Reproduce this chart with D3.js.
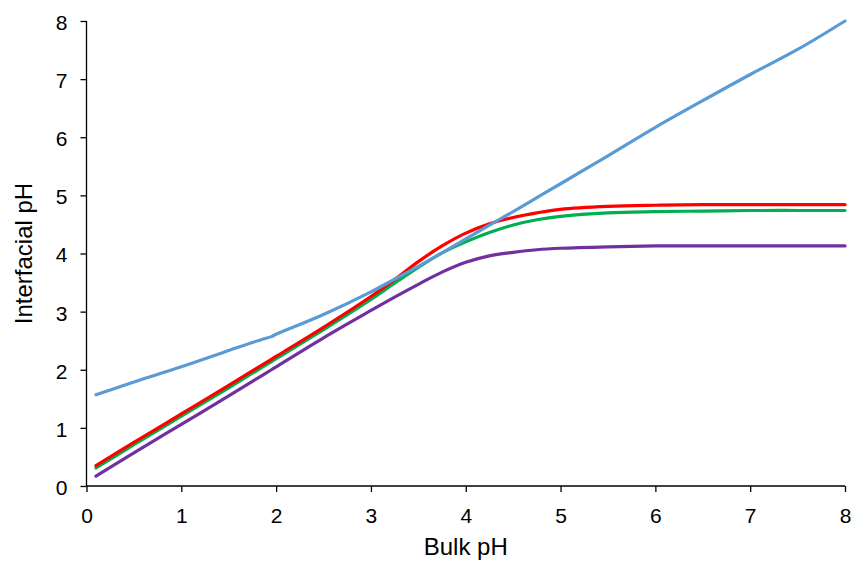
<!DOCTYPE html>
<html>
<head>
<meta charset="utf-8">
<script src="https://cdn.jsdelivr.net/npm/d3@7/dist/d3.min.js"></script>
<style>
  html, body { margin: 0; padding: 0; background: #fff; }
  svg { display: block; font-family: "Liberation Sans", Arial, sans-serif; }
</style>
</head>
<body>
<svg id="chart" width="854" height="561"></svg>
<script>
// Bulk pH values at which each curve is sampled
const bulkPH = [0.1, 0.5, 1.0, 1.5, 1.75, 1.85, 1.95, 2.0, 2.5, 3.0, 3.25, 3.5, 3.75, 4.0, 4.25, 4.5, 4.75, 5.0, 5.5, 6.0, 6.5, 7.0, 7.5, 8.0];

// Interfacial pH for each series
const blueSeries   = [1.57, 1.79, 2.05, 2.33, 2.47, 2.52, 2.57, 2.61, 2.95, 3.34, 3.56, 3.78, 4.01, 4.25, 4.49, 4.72, 4.96, 5.20, 5.68, 6.17, 6.63, 7.08, 7.51, 8.00];
const redSeries    = [0.35, 0.75, 1.24, 1.73, 1.98, 2.08, 2.18, 2.23, 2.73, 3.26, 3.55, 3.86, 4.13, 4.35, 4.51, 4.62, 4.70, 4.76, 4.81, 4.83, 4.84, 4.84, 4.84, 4.84];
const greenSeries  = [0.31, 0.71, 1.20, 1.69, 1.94, 2.04, 2.14, 2.19, 2.69, 3.21, 3.49, 3.76, 4.01, 4.20, 4.36, 4.49, 4.58, 4.64, 4.70, 4.72, 4.73, 4.74, 4.74, 4.74];
const purpleSeries = [0.17, 0.57, 1.06, 1.55, 1.80, 1.90, 2.00, 2.05, 2.55, 3.02, 3.25, 3.47, 3.68, 3.85, 3.96, 4.02, 4.065, 4.09, 4.115, 4.13, 4.13, 4.13, 4.13, 4.13];

const xTicks = [0, 1, 2, 3, 4, 5, 6, 7, 8];
const yTicks = [0, 1, 2, 3, 4, 5, 6, 7, 8];

const seriesList = [
  { values: purpleSeries, color: "#7030A0" },
  { values: greenSeries,  color: "#00B050" },
  { values: redSeries,    color: "#FF0000" },
  { values: blueSeries,   color: "#5B9BD5" }
];

const svg = d3.select("#chart");
const plot = { left: 86.5, right: 845, top: 21, bottom: 486 };

const x = d3.scaleLinear().domain([0, 8]).range([plot.left, plot.right]);
const y = d3.scaleLinear().domain([0, 8]).range([plot.bottom, plot.top]);

const tickFont = 21;
const titleFont = 24;

// Axes
const xAxis = d3.axisBottom(x).tickValues(xTicks).tickSize(6).tickPadding(16).tickFormat(d3.format("d"));
const yAxis = d3.axisLeft(y).tickValues(yTicks).tickSize(6).tickPadding(13).tickFormat(d3.format("d"));

const gx = svg.append("g").attr("transform", `translate(0,${plot.bottom})`).call(xAxis);
const gy = svg.append("g").attr("transform", `translate(${plot.left},0)`).call(yAxis);

[gx, gy].forEach(g => {
  g.select(".domain").attr("stroke", "#000").attr("stroke-width", 1.3);
  g.selectAll(".tick line").attr("stroke", "#000").attr("stroke-width", 1.3);
  g.selectAll(".tick text")
    .attr("fill", "#000")
    .style("font-size", tickFont + "px")
    .style("font-family", '"Liberation Sans", Arial, sans-serif');
});
gy.selectAll(".tick text").attr("dy", "0.4em");
gx.select(".domain").attr("d", `M${plot.left},0H${plot.right}`);
gy.select(".domain").attr("d", `M0,${plot.bottom}V${plot.top}`);

// Curves
const line = d3.line()
  .x((d, i) => x(bulkPH[i]))
  .y(d => y(d))
  .curve(d3.curveCatmullRom.alpha(0.5));

svg.append("g")
  .selectAll("path")
  .data(seriesList)
  .join("path")
  .attr("d", s => line(s.values))
  .attr("fill", "none")
  .attr("stroke", s => s.color)
  .attr("stroke-width", 3.2)
  .attr("stroke-linecap", "round")
  .attr("stroke-linejoin", "round");

// Axis titles
svg.append("text")
  .attr("x", (plot.left + plot.right) / 2)
  .attr("y", 555)
  .attr("text-anchor", "middle")
  .style("font-size", titleFont + "px")
  .attr("fill", "#000")
  .text("Bulk pH");

svg.append("text")
  .attr("transform", `translate(32,${(plot.top + plot.bottom) / 2}) rotate(-90)`)
  .attr("text-anchor", "middle")
  .style("font-size", titleFont + "px")
  .attr("fill", "#000")
  .text("Interfacial pH");
</script>
</body>
</html>
